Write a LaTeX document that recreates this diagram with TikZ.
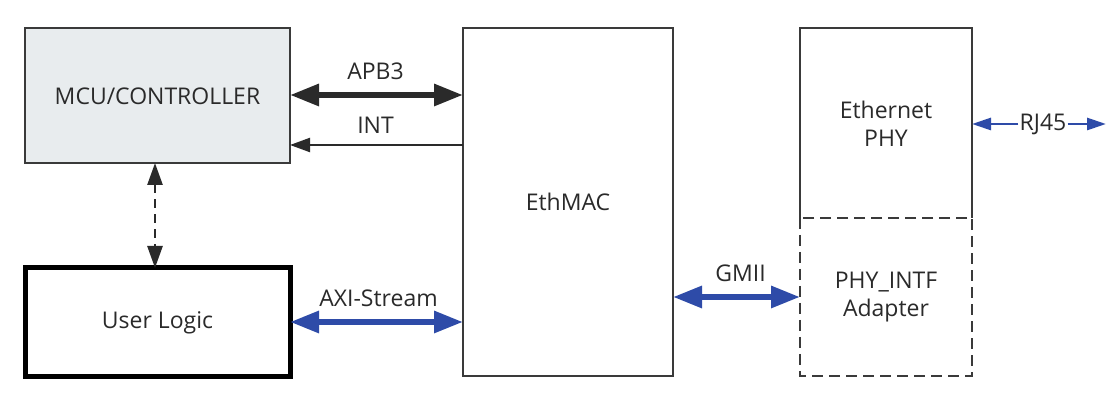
\documentclass[tikz,border=0pt]{standalone}
\usepackage{fontspec}
\setmainfont{Open Sans}
\usetikzlibrary{arrows.meta}
\definecolor{dk}{HTML}{2A2A2A}
\definecolor{bl}{HTML}{2E4BA8}
\definecolor{gfill}{HTML}{E8ECEE}
\definecolor{bd}{HTML}{3A3A3A}
\begin{document}
\begin{tikzpicture}[x=1pt,y=-1pt,
  lbl/.style={font=\fontsize{23}{28}\selectfont,text=dk,inner sep=0pt},
  bigarrow/.style={line width=6pt,{Triangle[length=29pt,width=21pt]}-{Triangle[length=29pt,width=21pt]}},
  thinarrow/.style={line width=2.2pt,{Triangle[length=20pt,width=14pt]}-},
  smallarrow/.style={line width=2.8pt,-{Triangle[length=19pt,width=12pt]}}]
\useasboundingbox (0,0) rectangle (1120,411);
\fill[white] (0,0) rectangle (1120,411);
% boxes
\draw[draw=bd,line width=2.2pt,fill=gfill] (25,28) rectangle (290,163);
\node[lbl] (mcu) at (157.5,96) {MCU/CONTROLLER};
\draw[draw=black,line width=5pt] (25,268) rectangle (290,377);
\node[lbl] (user) at (157.5,323) {User Logic};
\draw[draw=bd,line width=2.2pt] (463,28) rectangle (673,376);
\node[lbl] (mac) at (568,202) {EthMAC};
\draw[draw=bd,line width=2.2pt] (800,218) -- (800,28) -- (972,28) -- (972,218);
\node[lbl,align=center] (phy) at (886,124) {Ethernet\\PHY};
\draw[draw=bd,line width=2.6pt,dash pattern=on 11pt off 6pt] (800,218) rectangle (972,376);
\node[lbl,align=center] (adp) at (886,297) {PHY\_INTF\\Adapter};
% coordinates
\coordinate (mcuR1) at (290,95);
\coordinate (macL1) at (463,95);
\coordinate (mcuR2) at (290,145);
\coordinate (macL2) at (463,145);
\coordinate (mcuB) at (155,163);
\coordinate (userT) at (155,268);
\coordinate (userR) at (290,322);
\coordinate (macL3) at (463,322);
\coordinate (macR) at (673,297);
\coordinate (adpL) at (800,297);
\coordinate (phyR) at (972,124);
\coordinate (rjend) at (1106,124);
% connectors
\draw[bigarrow,draw=dk,color=dk] (mcuR1) -- (macL1) node[lbl,midway,above=12pt,xshift=-1pt] (apb) {APB3};
\draw[thinarrow,draw=dk,color=dk] (mcuR2) -- (macL2) node[lbl,midway,above=10pt,xshift=-1pt] (int) {INT};
\draw[draw=dk,line width=2.6pt,dash pattern=on 9pt off 6pt,{Triangle[length=22pt,width=15pt]}-{Triangle[length=22pt,width=15pt]}] (mcuB) -- (userT);
\draw[bigarrow,draw=bl,color=bl] (userR) -- (macL3) node[lbl,midway,above=12pt,xshift=2pt] (axi) {AXI-Stream};
\draw[bigarrow,draw=bl,color=bl] (macR) -- (adpL) node[lbl,midway,above=12pt,xshift=4pt] (gmii) {GMII};
\node[lbl] (rj) at (1043,124) {RJ45};
\draw[smallarrow,draw=bl,color=bl] (rj.west) ++(-1,0) -- (phyR);
\draw[smallarrow,draw=bl,color=bl] (rj.east) ++(1,0) -- (rjend);
\end{tikzpicture}
\end{document}
